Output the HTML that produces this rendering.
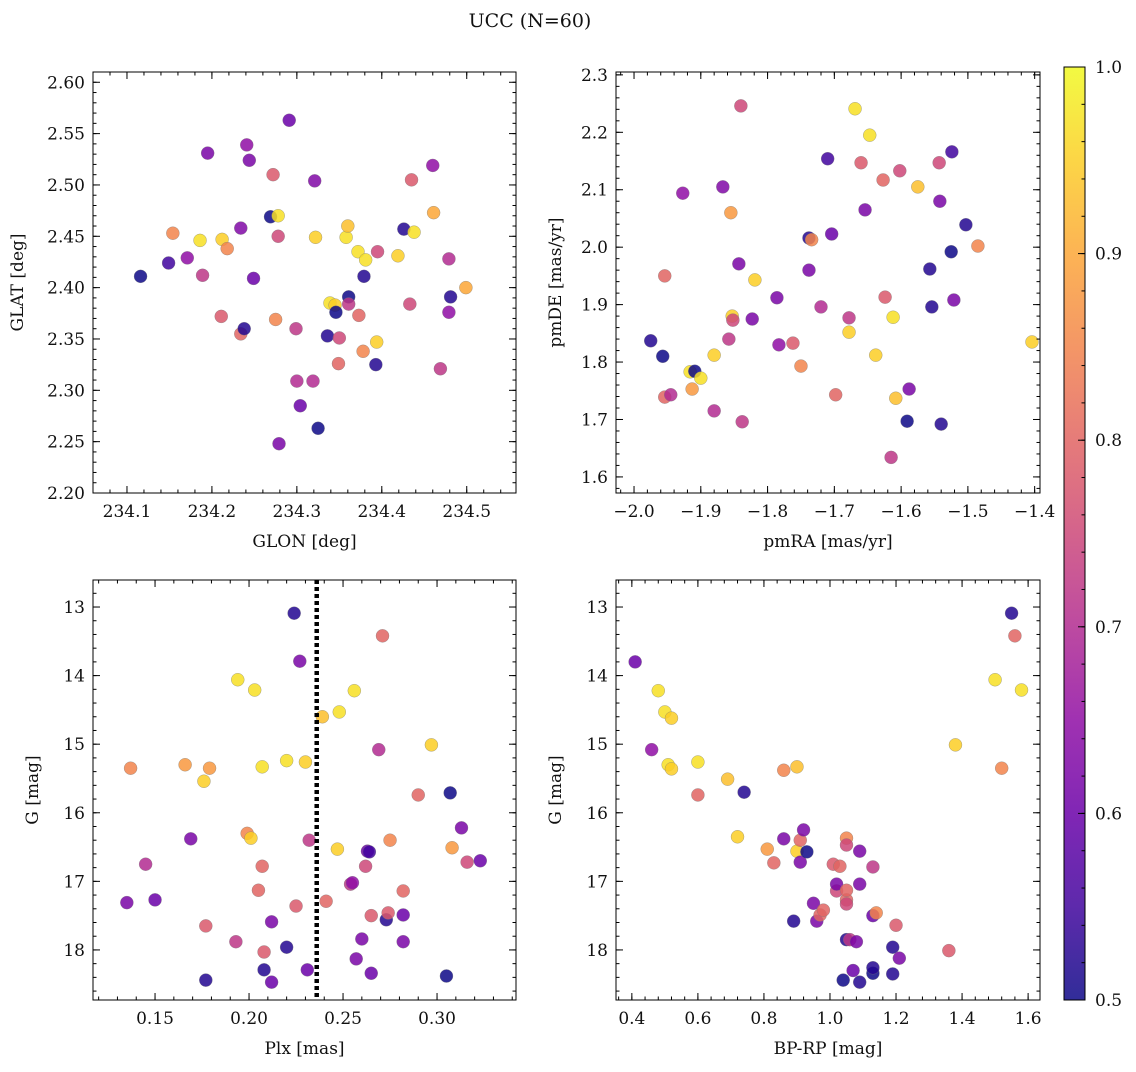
<!DOCTYPE html>
<html><head><meta charset="utf-8"><style>
html,body{margin:0;padding:0;background:#fff;}
svg text{font-family:"DejaVu Serif","Liberation Serif",serif;fill:#111;}
</style></head><body>
<svg id="fig" width="1136" height="1067" viewBox="0 0 1136 1067" xmlns="http://www.w3.org/2000/svg">
<text x="530" y="27" font-size="19" text-anchor="middle">UCC (N=60)</text>
</svg>
<script>
// ---- data ----
const p1GLON=[234.116,234.149,234.154,234.171,234.186,234.189,234.195,234.212,234.218,234.211,234.234,234.234,234.238,234.241,234.244,234.249,234.272,234.269,234.278,234.278,234.275,234.291,234.279,234.299,234.300,234.304,234.319,234.321,234.322,234.325,234.336,234.339,234.345,234.346,234.349,234.350,234.358,234.361,234.360,234.361,234.372,234.373,234.378,234.379,234.381,234.394,234.393,234.395,234.419,234.426,234.438,234.433,234.435,234.460,234.461,234.469,234.479,234.479,234.481,234.499];
const p1GLAT=[2.411,2.424,2.453,2.429,2.446,2.412,2.531,2.447,2.438,2.372,2.458,2.355,2.360,2.539,2.524,2.409,2.510,2.469,2.470,2.450,2.369,2.563,2.248,2.360,2.309,2.285,2.309,2.504,2.449,2.263,2.353,2.385,2.383,2.376,2.326,2.351,2.449,2.391,2.460,2.384,2.435,2.373,2.338,2.411,2.427,2.347,2.325,2.435,2.431,2.457,2.454,2.384,2.505,2.519,2.473,2.321,2.428,2.376,2.391,2.400];
const p1Prob=[0.5,0.55,0.85,0.65,0.97,0.72,0.62,0.95,0.85,0.78,0.63,0.8,0.52,0.65,0.62,0.6,0.78,0.5,0.97,0.75,0.85,0.6,0.62,0.72,0.7,0.6,0.7,0.63,0.95,0.5,0.52,0.97,0.95,0.5,0.8,0.75,0.97,0.5,0.93,0.72,0.97,0.8,0.85,0.52,0.97,0.95,0.52,0.75,0.95,0.52,0.97,0.75,0.78,0.65,0.9,0.72,0.7,0.65,0.52,0.9];

const p2PmRA=[-1.975,-1.957,-1.954,-1.954,-1.945,-1.927,-1.916,-1.909,-1.900,-1.913,-1.880,-1.880,-1.867,-1.858,-1.855,-1.853,-1.852,-1.843,-1.840,-1.838,-1.823,-1.819,-1.786,-1.783,-1.762,-1.750,-1.738,-1.734,-1.738,-1.720,-1.710,-1.704,-1.698,-1.678,-1.678,-1.669,-1.660,-1.654,-1.647,-1.638,-1.627,-1.624,-1.615,-1.612,-1.608,-1.602,-1.591,-1.588,-1.575,-1.557,-1.554,-1.543,-1.542,-1.540,-1.524,-1.521,-1.525,-1.503,-1.485,-1.404];
const p2PmDE=[1.837,1.810,1.950,1.739,1.743,2.094,1.783,1.784,1.772,1.753,1.812,1.715,2.105,1.840,2.060,1.880,1.873,1.971,2.246,1.696,1.875,1.943,1.912,1.830,1.833,1.793,2.016,2.013,1.960,1.896,2.154,2.023,1.743,1.877,1.852,2.241,2.147,2.065,2.195,1.812,2.117,1.913,1.634,1.878,1.737,2.133,1.697,1.753,2.105,1.962,1.896,2.147,2.080,1.692,2.166,1.908,1.992,2.039,2.002,1.835];
const p2Prob=[0.52,0.5,0.8,0.8,0.7,0.65,0.97,0.5,0.97,0.88,0.95,0.7,0.63,0.72,0.88,0.95,0.75,0.62,0.75,0.72,0.62,0.95,0.62,0.65,0.78,0.85,0.52,0.85,0.62,0.7,0.55,0.6,0.8,0.72,0.95,0.97,0.78,0.62,0.97,0.95,0.8,0.78,0.72,0.97,0.93,0.75,0.5,0.62,0.93,0.52,0.52,0.75,0.62,0.52,0.55,0.62,0.5,0.52,0.85,0.95];

const p3Plx=[0.135,0.137,0.145,0.150,0.166,0.169,0.176,0.177,0.177,0.179,0.194,0.193,0.199,0.201,0.203,0.205,0.207,0.207,0.208,0.208,0.212,0.212,0.220,0.220,0.224,0.227,0.225,0.230,0.231,0.232,0.239,0.241,0.247,0.248,0.256,0.254,0.255,0.257,0.260,0.262,0.263,0.264,0.265,0.265,0.269,0.271,0.273,0.274,0.275,0.282,0.282,0.282,0.290,0.297,0.305,0.307,0.308,0.313,0.316,0.323];
const p3G=[17.31,15.35,16.75,17.27,15.30,16.38,15.54,17.65,18.44,15.35,14.06,17.88,16.30,16.37,14.21,17.13,15.33,16.78,18.03,18.29,17.59,18.47,17.96,15.24,13.09,13.79,17.36,15.26,18.29,16.40,14.60,17.29,16.53,14.53,14.22,17.04,17.02,18.13,17.84,16.78,16.56,16.57,17.50,18.34,15.08,13.42,17.56,17.46,16.40,17.49,17.88,17.14,15.74,15.01,18.38,15.71,16.51,16.22,16.72,16.70];
const p3Prob=[0.62,0.85,0.7,0.6,0.88,0.62,0.95,0.78,0.52,0.88,0.97,0.72,0.85,0.95,0.97,0.8,0.97,0.8,0.78,0.52,0.62,0.6,0.52,0.97,0.52,0.62,0.78,0.95,0.6,0.72,0.93,0.8,0.95,0.97,0.97,0.72,0.65,0.62,0.62,0.75,0.6,0.55,0.78,0.6,0.7,0.8,0.52,0.78,0.85,0.6,0.62,0.8,0.8,0.95,0.5,0.5,0.88,0.62,0.75,0.6];
const plxCut=0.236;

const p4BPRP=[0.41,0.46,0.48,0.50,0.52,0.51,0.52,0.60,0.60,0.69,0.72,0.74,0.81,0.83,0.86,0.86,0.89,0.90,0.91,0.91,0.90,0.92,0.93,0.95,0.96,0.97,0.98,1.01,1.02,1.02,1.03,1.04,1.05,1.05,1.05,1.05,1.05,1.05,1.06,1.07,1.08,1.09,1.09,1.09,1.13,1.13,1.13,1.13,1.14,1.19,1.20,1.19,1.21,1.36,1.38,1.50,1.52,1.55,1.56,1.58];
const p4G=[13.80,15.08,14.22,14.53,14.62,15.30,15.36,15.26,15.74,15.51,16.35,15.70,16.53,16.73,16.38,15.38,17.58,16.56,16.40,16.72,15.33,16.25,16.57,17.32,17.58,17.49,17.42,16.75,17.14,17.04,16.78,18.44,17.85,17.27,16.37,16.47,17.13,17.33,17.85,18.30,17.88,18.47,16.56,17.04,17.50,18.34,18.26,16.79,17.46,17.96,17.64,18.35,18.12,18.01,15.01,14.06,15.35,13.09,13.42,14.21];
const p4Prob=[0.6,0.65,0.97,0.97,0.95,0.97,0.95,0.97,0.8,0.93,0.95,0.52,0.88,0.8,0.62,0.85,0.52,0.95,0.8,0.62,0.93,0.62,0.5,0.62,0.62,0.8,0.8,0.78,0.75,0.62,0.8,0.5,0.52,0.8,0.85,0.75,0.8,0.75,0.72,0.6,0.62,0.52,0.62,0.62,0.6,0.5,0.52,0.72,0.85,0.52,0.78,0.52,0.62,0.78,0.95,0.97,0.85,0.52,0.8,0.97];

const cbTicks=[0.5,0.6,0.7,0.8,0.9,1.0];

// ---- helpers ----
const NS="http://www.w3.org/2000/svg";
const svg=document.getElementById('fig');
function mk(tag,attrs,parent){const e=document.createElementNS(NS,tag);for(const k in attrs)e.setAttribute(k,attrs[k]);(parent||svg).appendChild(e);return e;}
const plasma=["#0d0887","#41049d","#6a00a8","#8f0da4","#b12a90","#cc4778","#e16462","#f2844b","#fca636","#fcce25","#f0f921"];
function hex(h){return [1,3,5].map(i=>parseInt(h.substr(i,2),16));}
function cmap(v){let t=Math.max(0,Math.min(1,(v-0.5)/0.5))*10;const i=Math.min(9,Math.floor(t));const f=t-i;const a=hex(plasma[i]),b=hex(plasma[i+1]);return 'rgb('+a.map((c,k)=>Math.round(c+(b[k]-c)*f)).join(',')+')';}
function fmt(v,d){return v.toFixed(d).replace('-','\u2212');}
const TFS=17, LFS=17;

function panel(cfg){
  const g=mk('g',{});
  
  
  const {L,R,T,B,xmin,xmax,ymin,ymax,yinv}=cfg;
  const sx=v=>L+(v-xmin)/(xmax-xmin)*(R-L);
  const sy=v=>yinv? T+(v-ymin)/(ymax-ymin)*(B-T) : B-(v-ymin)/(ymax-ymin)*(B-T);
  for(let i=0;i<cfg.xs.length;i++){
    const c=mk('circle',{cx:sx(cfg.xs[i]),cy:sy(cfg.ys[i]),r:6.5,fill:cmap(cfg.cs[i]),'fill-opacity':0.85,stroke:'#777','stroke-width':0.4,'stroke-opacity':0.8},g);
    
    
  }
  if(cfg.vline!==undefined){
    const l=mk('line',{x1:sx(cfg.vline),x2:sx(cfg.vline),y1:T,y2:B,stroke:'#000','stroke-width':4.5,'stroke-dasharray':'4,3'},g);
    
    
  }
  const fr=mk('rect',{x:L,y:T,width:R-L,height:B-T,fill:'none',stroke:'#000','stroke-width':1},g);
  
  
  const eps=1e-9;
  function ticks(min,max,step){const a=[];let s=Math.ceil((min-eps)/step);for(let v=s*step;v<=max+eps;v+=step)a.push(Math.round(v/step)*step);return a;}
  ticks(xmin,xmax,cfg.xminor).forEach(v=>{const x=sx(v);mk('line',{x1:x,x2:x,y1:B,y2:B-3.5,stroke:'#000'},g);mk('line',{x1:x,x2:x,y1:T,y2:T+3.5,stroke:'#000'},g);});
  ticks(ymin,ymax,cfg.yminor).forEach(v=>{const y=sy(v);mk('line',{x1:L,x2:L+3.5,y1:y,y2:y,stroke:'#000'},g);mk('line',{x1:R,x2:R-3.5,y1:y,y2:y,stroke:'#000'},g);});
  ticks(xmin,xmax,cfg.xmajor).forEach(v=>{const x=sx(v);mk('line',{x1:x,x2:x,y1:B,y2:B-7,stroke:'#000'},g);mk('line',{x1:x,x2:x,y1:T,y2:T+7,stroke:'#000'},g);
    const t=mk('text',{x:x,y:B+24,'font-size':TFS,'text-anchor':'middle'},g);t.textContent=fmt(v,cfg.xdec);
    });
  ticks(ymin,ymax,cfg.ymajor).forEach(v=>{const y=sy(v);mk('line',{x1:L,x2:L+7,y1:y,y2:y,stroke:'#000'},g);mk('line',{x1:R,x2:R-7,y1:y,y2:y,stroke:'#000'},g);
    const t=mk('text',{x:L-8,y:y+6,'font-size':TFS,'text-anchor':'end'},g);t.textContent=fmt(v,cfg.ydec);
    });
  const xl=mk('text',{x:(L+R)/2,y:B+54,'font-size':LFS,'text-anchor':'middle'},g);xl.textContent=cfg.xlabel;
  
  const yx=L-cfg.ylabOff;
  const yl=mk('text',{x:yx,y:(T+B)/2,'font-size':LFS,'text-anchor':'middle',transform:'rotate(-90 '+yx+' '+(T+B)/2+')'},g);yl.textContent=cfg.ylabel;
  
}

panel({name:'glon-glat-panel',L:93,R:516,T:72,B:493,xmin:234.060,xmax:234.558,ymin:2.2,ymax:2.610,xmajor:0.1,xminor:0.02,ymajor:0.05,yminor:0.01,xdec:1,ydec:2,xs:p1GLON,ys:p1GLAT,cs:p1Prob,xlabel:'GLON [deg]',ylabel:'GLAT [deg]',ylabOff:70});
panel({name:'propermotion-panel',L:616,R:1040,T:72,B:493,xmin:-2.027,xmax:-1.392,ymin:1.572,ymax:2.305,xmajor:0.1,xminor:0.02,ymajor:0.1,yminor:0.02,xdec:1,ydec:1,xs:p2PmRA,ys:p2PmDE,cs:p2Prob,xlabel:'pmRA [mas/yr]',ylabel:'pmDE [mas/yr]',ylabOff:55});
panel({name:'plx-g-panel',L:93,R:516,T:580,B:1000,xmin:0.117,xmax:0.342,ymin:12.606,ymax:18.73,yinv:true,xmajor:0.05,xminor:0.01,ymajor:1,yminor:0.2,xdec:2,ydec:0,xs:p3Plx,ys:p3G,cs:p3Prob,vline:plxCut,xlabel:'Plx [mas]',ylabel:'G [mag]',ylabOff:55});
panel({name:'cmd-panel',L:616,R:1040,T:580,B:1000,xmin:0.352,xmax:1.636,ymin:12.606,ymax:18.73,yinv:true,xmajor:0.2,xminor:0.04,ymajor:1,yminor:0.2,xdec:1,ydec:0,xs:p4BPRP,ys:p4G,cs:p4Prob,xlabel:'BP-RP [mag]',ylabel:'G [mag]',ylabOff:55});

(function(){
  const L=1064,R=1085,T=67,B=1000;
  const g=mk('g',{});
  
  
  const defs=mk('defs',{},g);
  const lg=mk('linearGradient',{id:'cbg',x1:0,y1:1,x2:0,y2:0},defs);
  for(let i=0;i<=20;i++){mk('stop',{offset:i/20,'stop-color':cmap(0.5+i/40),'stop-opacity':0.85},lg);}
  mk('rect',{x:L,y:T,width:R-L,height:B-T,fill:'url(#cbg)',stroke:'#000','stroke-width':1},g);
  const sy=v=>B-(v-0.5)/0.5*(B-T);
  for(let v=0.5;v<=1.0001;v+=0.02){const y=sy(v);mk('line',{x1:R,x2:R-3.5,y1:y,y2:y,stroke:'#000'},g);}
  cbTicks.forEach(v=>{const y=sy(v);mk('line',{x1:R,x2:R-7,y1:y,y2:y,stroke:'#000'},g);
    const t=mk('text',{x:R+10,y:y+6,'font-size':TFS},g);t.textContent=v.toFixed(1);
    });
})();
</script>
</body></html>
